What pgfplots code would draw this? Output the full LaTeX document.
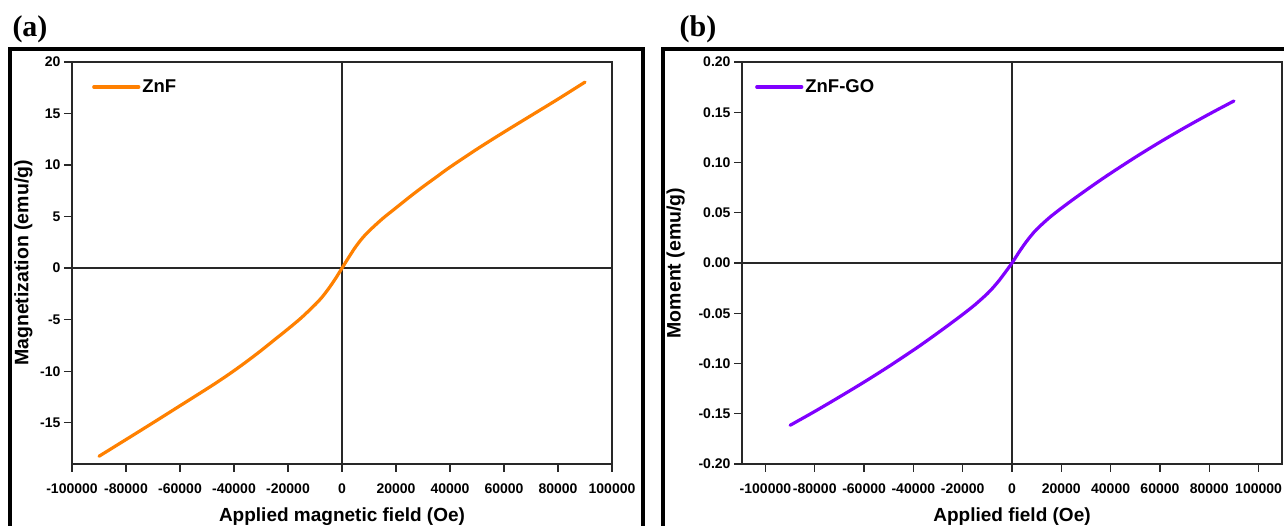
\documentclass[border=0pt]{standalone}
\usepackage{pgfplots}
\pgfplotsset{compat=1.18}
\usepackage{fontspec}
\setmainfont{Liberation Sans}
\newfontfamily\serifb{Liberation Serif}
\definecolor{znf}{RGB}{255,128,0}
\definecolor{znfgo}{RGB}{128,0,255}
\definecolor{axc}{RGB}{40,40,40}

\pgfplotsset{
  myaxis/.style={
    scale only axis, width=540pt, height=402pt, anchor=south west,
    axis line style={axc, line width=1.3pt},
    every tick/.style={axc, line width=1.3pt},
    tick align=outside, tick pos=left, major tick length=8pt,
    /pgf/number format/assume math mode=true,
    /pgf/number format/1000 sep={},
    scaled x ticks=false, scaled y ticks=false,
    xtick={-100000,-80000,...,100000},
    xticklabel style={font=\fontsize{14}{16}\selectfont\bfseries, /pgf/number format/fixed, yshift=-8pt},
    yticklabel style={font=\fontsize{14}{16}\selectfont\bfseries},
    xlabel style={font=\fontsize{19}{21}\selectfont\bfseries, at={(axis description cs:0.5,0)}, anchor=center, yshift=-53pt},
    ylabel style={font=\fontsize{19.5}{21}\selectfont\bfseries, anchor=center},
    legend style={draw=none, fill=none, inner sep=0pt, anchor=west,
      font=\fontsize{18.5}{20}\selectfont\bfseries},
    legend cell align=left,
    legend image code/.code={\draw[#1] (0pt,0pt) -- (45pt,0pt);},
  }
}

\begin{document}
\begin{tikzpicture}
\useasboundingbox (0pt,0pt) rectangle (1284pt,526pt);
\begin{scope}
\clip (0pt,0pt) rectangle (1284pt,526pt);
\draw[line width=4pt, black] (10pt,-10pt) rectangle (643pt,476.5pt);
\draw[line width=4pt, black] (663pt,-10pt) rectangle (1300pt,476.5pt);
\end{scope}
\node[font=\serifb\fontsize{30}{32}\selectfont\bfseries, anchor=center] at (30pt,497pt) {(a)};
\node[font=\serifb\fontsize{30}{32}\selectfont\bfseries, anchor=center] at (698pt,497pt) {(b)};

\begin{axis}[myaxis, at={(72pt,62pt)},
  xmin=-100000, xmax=100000, ymin=-19, ymax=20,
  ytick={-15,-10,...,20},
  xlabel={Applied magnetic field (Oe)},
  ylabel={Magnetization (emu/g)},
  ylabel style={at={(axis description cs:-0.09,0.5)}},
  legend style={at={(axis description cs:0.037,0.938)}},
]
\draw[axc, line width=1.3pt] (axis cs:0,-19) -- (axis cs:0,20);
\draw[axc, line width=1.3pt] (axis cs:-100000,0) -- (axis cs:100000,0);
\addplot[znf, line width=3.2pt, smooth, line cap=round] coordinates {
(-90000,-18.25) (-80000,-16.63) (-70000,-15.0) (-60000,-13.35) (-50000,-11.7)
(-45000,-10.85) (-40000,-9.95) (-35000,-9.0) (-30000,-8.0) (-25000,-6.95)
(-20000,-5.9) (-15000,-4.8) (-10000,-3.55) (-7500,-2.85) (-5000,-2.0)
(-2500,-1.05) (0,0)
(2500,1.05) (5000,2.05) (7500,2.9) (10000,3.6) (15000,4.8) (20000,5.85)
(25000,6.9) (30000,7.9) (35000,8.85) (40000,9.8) (50000,11.55) (60000,13.2)
(70000,14.8) (80000,16.4) (90000,18.05)
};
\addlegendentry{ZnF}
\end{axis}

\begin{axis}[myaxis, at={(742pt,62pt)},
  xmin=-109500, xmax=109500, ymin=-0.2, ymax=0.2,
  ytick={-0.2,-0.15,...,0.21},
  yticklabel style={/pgf/number format/fixed, /pgf/number format/fixed zerofill, /pgf/number format/precision=2},
  xlabel={Applied field (Oe)},
  ylabel={Moment (emu/g)},
  ylabel style={at={(axis description cs:-0.123,0.5)}},
  legend style={at={(axis description cs:0.024,0.938)}},
]
\draw[axc, line width=1.3pt] (axis cs:0,-0.2) -- (axis cs:0,0.2);
\draw[axc, line width=1.3pt] (axis cs:-109500,0) -- (axis cs:109500,0);
\addplot[znfgo, line width=3.2pt, smooth, line cap=round] coordinates {
(-90000,-0.1615) (-80000,-0.1477) (-70000,-0.1333) (-60000,-0.1185) (-50000,-0.1030)
(-40000,-0.0867) (-35000,-0.0782) (-30000,-0.0694) (-25000,-0.0604) (-20000,-0.0512)
(-15000,-0.0415) (-10000,-0.0305) (-7500,-0.0240) (-5000,-0.0167) (-2500,-0.0085) (0,0)
(2500,0.0095) (5000,0.0185) (7500,0.0265) (10000,0.0335) (15000,0.0448)
(20000,0.0545) (25000,0.0636) (30000,0.0724) (35000,0.0810) (40000,0.0893)
(50000,0.1052) (60000,0.1203) (70000,0.1346) (80000,0.1482) (90000,0.1612)
};
\addlegendentry{ZnF-GO}
\end{axis}
\end{tikzpicture}
\end{document}
